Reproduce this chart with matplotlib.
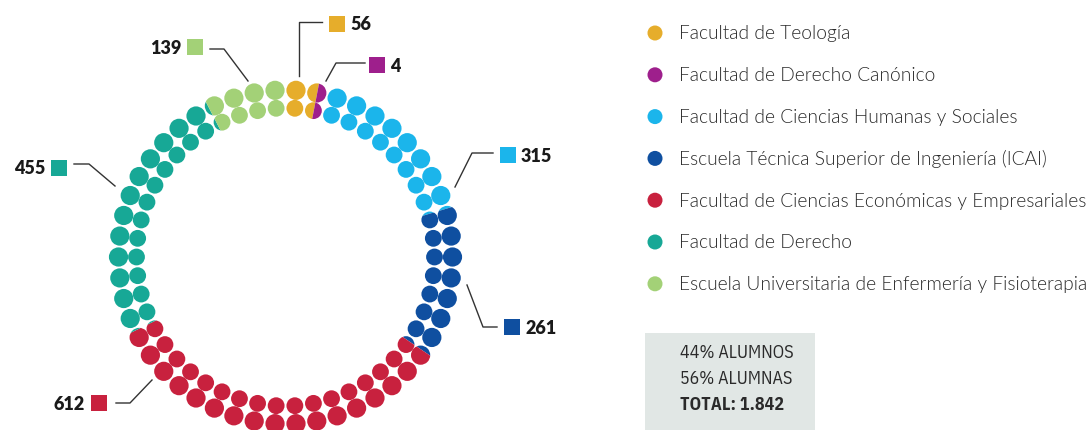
import numpy as np
import matplotlib.pyplot as plt
from matplotlib.patches import Circle, Polygon, Rectangle

# data
facultades = ["Facultad de Teología",
              "Facultad de Derecho Canónico",
              "Facultad de Ciencias Humanas y Sociales",
              "Escuela Técnica Superior de Ingeniería (ICAI)",
              "Facultad de Ciencias Económicas y Empresariales",
              "Facultad de Derecho",
              "Escuela Universitaria de Enfermería y Fisioterapia"]
alumnos = [56, 4, 315, 261, 612, 455, 139]
colores = ["#E6AD2B", "#9E1F8C", "#1BB5EB", "#0F4FA0", "#C8213E", "#17A896", "#A3D177"]
resumen = ["44% ALUMNOS", "56% ALUMNAS", "TOTAL: 1.842"]

n_dots = 50

fig = plt.figure(figsize=(10.91, 4.30), dpi=100)
ax = fig.add_axes([0, 0, 1, 1])
ax.set_xlim(0, 1091)
ax.set_ylim(430, 0)
ax.set_aspect("equal")
ax.axis("off")

cx, cy = 285.5, 257
rings = [(167, 9.6), (149, 8.4)]  # radius, dot radius

total = sum(alumnos)
bounds = np.concatenate([[0], np.cumsum(alumnos)]) / total * n_dots
# very small groups get the rest of their dot so they stay visible
for k in range(len(alumnos)):
    if bounds[k + 1] - bounds[k] < 0.5:
        bounds[k + 1] = np.ceil(bounds[k + 1])


def pos(r, frac):
    th = frac / n_dots * 2 * np.pi
    return cx + r * np.sin(th), cy - r * np.cos(th)


for R, dr in rings:
    for i in range(n_dots):
        x, y = pos(R, i + 0.5)
        clip = Circle((x, y), dr, transform=ax.transData)
        for k in range(len(alumnos)):
            a = max(bounds[k], i)
            b = min(bounds[k + 1], i + 1)
            if b <= a:
                continue
            if a == i and b == i + 1:
                ax.add_patch(Circle((x, y), dr, color=colores[k], lw=0))
                continue
            # wedge from ring centre, clipped to the dot
            ts = np.linspace(a, b, 12)
            pts = [(cx, cy)] + [pos(R + 40, t) for t in ts]
            wedge = Polygon(pts, closed=True, color=colores[k], lw=0)
            ax.add_patch(wedge)
            wedge.set_clip_path(clip)

# labels with leader lines
etiquetas = [
    # text, square centre, line points, text side
    ("56", (337, 24), [(322, 22), (299, 22), (299, 76)], "r"),
    ("4", (377, 65), [(365, 63), (336, 63), (326, 81)], "r"),
    ("315", (508, 155), [(493, 153), (472, 153), (455, 187)], "r"),
    ("261", (512, 327), [(497, 327), (483, 327), (467, 285)], "r"),
    ("612", (99, 403), [(116, 403), (130, 403), (152, 380)], "l"),
    ("455", (59, 168), [(74, 164), (89, 164), (115, 186)], "l"),
    ("139", (195, 47), [(210, 49), (224, 49), (248, 81)], "l"),
]
for k, (txt, (sx, sy), line, side) in enumerate(etiquetas):
    ax.add_patch(Rectangle((sx - 8, sy - 8), 16, 16, color=colores[k], lw=0))
    xs, ys = zip(*line)
    ax.plot(xs, ys, color="#333333", lw=1.0)
    if side == "r":
        ax.text(sx + 13, sy + 1, txt, ha="left", va="center", fontsize=13,
                fontweight="heavy", family="Lato", color="#1a1a1a")
    else:
        ax.text(sx - 14, sy + 1, txt, ha="right", va="center", fontsize=13,
                fontweight="heavy", family="Lato", color="#1a1a1a")

# legend
for k, nombre in enumerate(facultades):
    y = 33 + k * 41.8
    ax.add_patch(Circle((655, y), 7.5, color=colores[k], lw=0))
    ax.text(679, y + 1, nombre, ha="left", va="center", fontsize=13.8,
            fontweight=300, family="Lato", color="#2a2a2a")

# summary box
ax.add_patch(Rectangle((645, 333), 170, 100, color="#E1E7E5", lw=0))
for j, linea in enumerate(resumen):
    ax.text(680, 353 + j * 26, linea, ha="left", va="center", fontsize=13,
            family=["IBM Plex Sans Condensed", "DejaVu Sans"],
            fontweight=700 if j == 2 else 400, color="#2a2a2a")

fig.savefig("out.png", dpi=100)
